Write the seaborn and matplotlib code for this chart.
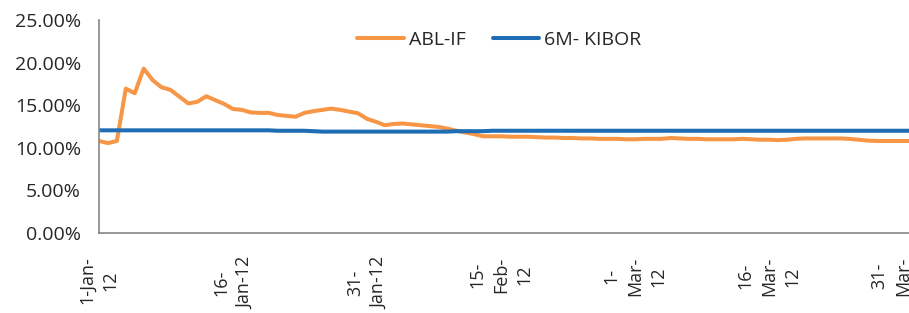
import pandas as pd
import seaborn as sns
import matplotlib.pyplot as plt
import matplotlib.ticker as mticker

# daily values, 1-Jan-12 .. 1-Apr-12
dates = pd.date_range("2012-01-01", "2012-04-01", freq="D")

abl_if = [10.80, 10.55, 10.80, 16.95, 16.40, 19.30, 17.95, 17.10, 16.80, 16.00,
          15.20, 15.40, 16.05, 15.60, 15.15, 14.55, 14.45, 14.15, 14.10, 14.10,
          13.85, 13.75, 13.65, 14.10, 14.30, 14.45, 14.60, 14.45, 14.25, 14.05,
          13.40, 13.05, 12.65, 12.80, 12.85, 12.75, 12.65, 12.55, 12.45, 12.25,
          12.00, 11.80, 11.60, 11.35, 11.35, 11.35, 11.30, 11.30, 11.30, 11.25,
          11.20, 11.20, 11.15, 11.15, 11.10, 11.10, 11.05, 11.05, 11.05, 11.00,
          11.00, 11.05, 11.05, 11.05, 11.15, 11.10, 11.05, 11.05, 11.00, 11.00,
          11.00, 11.00, 11.05, 11.00, 10.95, 10.95, 10.90, 10.95, 11.05, 11.10,
          11.10, 11.10, 11.10, 11.10, 11.05, 10.95, 10.85, 10.80, 10.80, 10.80,
          10.80, 10.80]

kibor_6m = [12.05, 12.05, 12.05, 12.05, 12.05, 12.05, 12.05, 12.05, 12.05, 12.05,
            12.05, 12.05, 12.05, 12.05, 12.05, 12.05, 12.05, 12.05, 12.05, 12.05,
            12.00, 12.00, 12.00, 12.00, 11.95, 11.90, 11.90, 11.90, 11.90, 11.90,
            11.90, 11.90, 11.90, 11.90, 11.90, 11.90, 11.90, 11.90, 11.90, 11.90,
            11.95, 11.95, 11.95, 11.95, 12.00, 12.00, 12.00, 12.00, 12.00, 12.00,
            12.00, 12.00, 12.00, 12.00, 12.00, 12.00, 12.00, 12.00, 12.00, 12.00,
            12.00, 12.00, 12.00, 12.00, 12.00, 12.00, 12.00, 12.00, 12.00, 12.00,
            12.00, 12.00, 12.00, 12.00, 12.00, 12.00, 12.00, 12.00, 12.00, 12.00,
            12.00, 12.00, 12.00, 12.00, 12.00, 12.00, 12.00, 12.00, 12.00, 12.00,
            12.00, 12.00]

tick_dates = ["2012-01-01", "2012-01-16", "2012-01-31", "2012-02-15",
              "2012-03-01", "2012-03-16", "2012-03-31"]
tick_labels = ["1-Jan-\n12", "16-\nJan-12", "31-\nJan-12", "15-\nFeb-\n12",
               "1-\nMar-\n12", "16-\nMar-\n12", "31-\nMar-\n12"]
y_ticks = [0, 5, 10, 15, 20, 25]

sns.set_style("white")
plt.rcParams['font.family'] = ['Open Sans', 'DejaVu Sans']
plt.rcParams['font.size'] = 14

df = pd.DataFrame({"date": dates, "ABL-IF": abl_if, "6M- KIBOR": kibor_6m})
long_df = df.melt(id_vars="date", var_name="series", value_name="rate")

fig = plt.figure(figsize=(9.09, 3.13), dpi=100)
ax = fig.add_axes([99/909, 1 - 233/313, 810/909, 213/313])

sns.lineplot(data=long_df, x="date", y="rate", hue="series",
             palette={"ABL-IF": "#F79646", "6M- KIBOR": "#1F6DB5"},
             linewidth=2.9, ax=ax)

ax.set_ylim(0, 25)
ax.set_xlim(pd.Timestamp("2012-01-01"), pd.Timestamp("2012-03-31") + pd.Timedelta(hours=16))
ax.set_yticks(y_ticks)
ax.yaxis.set_major_formatter(mticker.FuncFormatter(lambda v, p: f"{v:.2f}%"))
ax.set_xticks(pd.to_datetime(tick_dates))
ax.set_xticklabels(tick_labels, rotation=90, ha="center", va="top",
                   multialignment="center", linespacing=1.4, fontsize=13)
ax.set_xlabel("")
ax.set_ylabel("")

for s in ["top", "right"]:
    ax.spines[s].set_visible(False)
for s in ["left", "bottom"]:
    ax.spines[s].set_color("#868686")
    ax.spines[s].set_linewidth(1.2)
ax.tick_params(axis="both", direction="out", length=4, width=1, color="#868686",
               labelcolor="#262626")
ax.tick_params(axis="y", pad=9, labelsize=14)
ax.tick_params(axis="x", pad=13)

ax.legend(loc="center", bbox_to_anchor=(0.494, 0.906), ncol=2, frameon=False,
          handlelength=2.4, handletextpad=0.25, columnspacing=1.4, fontsize=14)

plt.savefig("out.png", dpi=100)
